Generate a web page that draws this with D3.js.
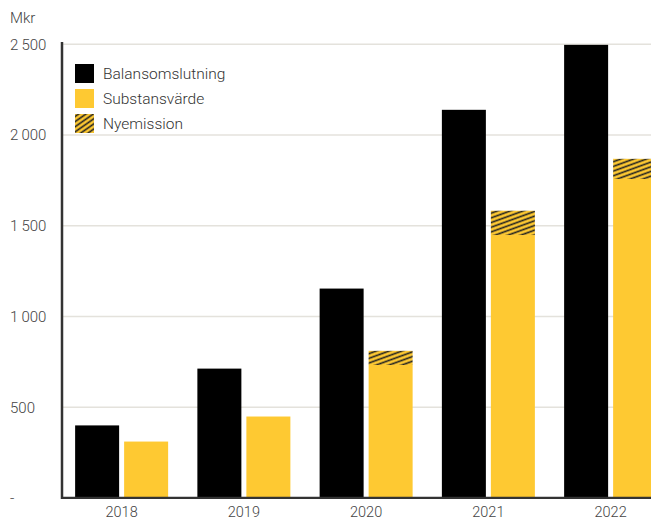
<!DOCTYPE html>
<html>
<head>
<meta charset="utf-8">
<script src="https://cdn.jsdelivr.net/npm/d3@7"></script>
<style>
  html, body { margin: 0; padding: 0; background: #fff; }
  svg { display: block; font-family: Roboto, "Noto Sans", sans-serif; font-weight: 300; }
</style>
</head>
<body>
<svg id="chart" width="651" height="521"></svg>
<script>
// Years on the x axis
const years = ["2018", "2019", "2020", "2021", "2022"];
// Balansomslutning (Mkr)
const balansomslutning = [400, 713, 1154, 2139, 2497];
// Substansvärde excluding the new issue (Mkr)
const substansvarde = [311, 449, 733, 1449, 1758];
// Nyemission stacked on top of substansvärde (Mkr)
const nyemission = [0, 0, 78, 134, 111];
// Y tick values and their labels
const yTicks = [0, 500, 1000, 1500, 2000, 2500];
const yTickLabels = ["-", "500", "1\u2009000", "1\u2009500", "2\u2009000", "2\u2009500"];
// Legend entries
const legendLabels = ["Balansomslutning", "Substansvärde", "Nyemission"];

const BLACK = "#000000";
const YELLOW = "#fec932";
const HATCH = "#222222";

const svg = d3.select("#chart");
const defs = svg.append("defs");

function hatchPattern(id, angle, gap, sw) {
  const p = defs.append("pattern")
    .attr("id", id)
    .attr("patternUnits", "userSpaceOnUse")
    .attr("width", 10)
    .attr("height", gap)
    .attr("patternTransform", `rotate(${angle})`);
  p.append("rect").attr("width", 10).attr("height", gap).attr("fill", YELLOW);
  p.append("line")
    .attr("x1", 0).attr("x2", 10)
    .attr("y1", gap / 2).attr("y2", gap / 2)
    .attr("stroke", HATCH).attr("stroke-width", sw);
}
hatchPattern("hatchBar", -20, 4.4, 1.6);
hatchPattern("hatchLegend", -35, 4.2, 1.6);

const axisLeftX = 62;
const y = d3.scaleLinear().domain([0, 2500]).range([498, 44.3]);

const x0 = d3.scaleBand().domain(years).range([60.5, 671.75]).padding(0);
const inner = d3.scaleBand()
  .domain(["bal", "sub"])
  .range([x0.bandwidth() / 2 - 46.5, x0.bandwidth() / 2 + 46.5])
  .paddingInner(5 / 49).paddingOuter(0);

// Gridlines
svg.append("g").selectAll("line")
  .data(yTicks.filter(d => d > 0))
  .join("line")
  .attr("x1", axisLeftX).attr("x2", 651)
  .attr("y1", d => y(d)).attr("y2", d => y(d))
  .attr("stroke", "#e4e2dc").attr("stroke-width", 1.5);

// Y tick labels
svg.append("g").selectAll("text")
  .data(yTicks)
  .join("text")
  .attr("x", 10)
  .attr("y", d => y(d))
  .attr("dy", "0.36em")
  .attr("font-size", 15)
  .attr("fill", "#444")
  .text((d, i) => yTickLabels[i]);

svg.append("text")
  .attr("x", 10).attr("y", 18).attr("dy", "0.36em")
  .attr("font-size", 15).attr("fill", "#444")
  .text("Mkr");

// Bars
const groups = svg.append("g").selectAll("g")
  .data(years.map((yr, i) => ({ yr, bal: balansomslutning[i], sub: substansvarde[i], ny: nyemission[i] })))
  .join("g")
  .attr("transform", d => `translate(${x0(d.yr)},0)`);

groups.append("rect")
  .attr("x", inner("bal")).attr("width", inner.bandwidth())
  .attr("y", d => y(d.bal)).attr("height", d => y(0) - y(d.bal))
  .attr("fill", BLACK);

groups.append("rect")
  .attr("x", inner("sub")).attr("width", inner.bandwidth())
  .attr("y", d => y(d.sub)).attr("height", d => y(0) - y(d.sub))
  .attr("fill", YELLOW);

groups.filter(d => d.ny > 0).append("rect")
  .attr("x", inner("sub")).attr("width", inner.bandwidth())
  .attr("y", d => y(d.sub + d.ny)).attr("height", d => y(d.sub) - y(d.sub + d.ny))
  .attr("fill", "url(#hatchBar)");

// Axis lines
svg.append("line")
  .attr("x1", axisLeftX).attr("x2", axisLeftX)
  .attr("y1", 42).attr("y2", 499)
  .attr("stroke", "#333").attr("stroke-width", 2.5);
svg.append("line")
  .attr("x1", axisLeftX - 1).attr("x2", 651)
  .attr("y1", 497.8).attr("y2", 497.8)
  .attr("stroke", "#333").attr("stroke-width", 2.2);

// X labels
svg.append("g").selectAll("text")
  .data(years)
  .join("text")
  .attr("x", d => x0(d) + x0.bandwidth() / 2)
  .attr("y", 516.5)
  .attr("text-anchor", "middle")
  .attr("font-size", 14.5)
  .attr("fill", "#444")
  .text(d => d);

// Legend
const legendFills = [BLACK, YELLOW, "url(#hatchLegend)"];
const legend = svg.append("g").selectAll("g")
  .data(legendLabels)
  .join("g")
  .attr("transform", (d, i) => `translate(75,${64 + i * 25})`);
legend.append("rect")
  .attr("width", 19).attr("height", 19)
  .attr("fill", (d, i) => legendFills[i]);
legend.append("text")
  .attr("x", 28).attr("y", 9.5).attr("dy", "0.36em")
  .attr("font-size", 15.5).attr("fill", "#333")
  .text(d => d);
</script>
</body>
</html>
